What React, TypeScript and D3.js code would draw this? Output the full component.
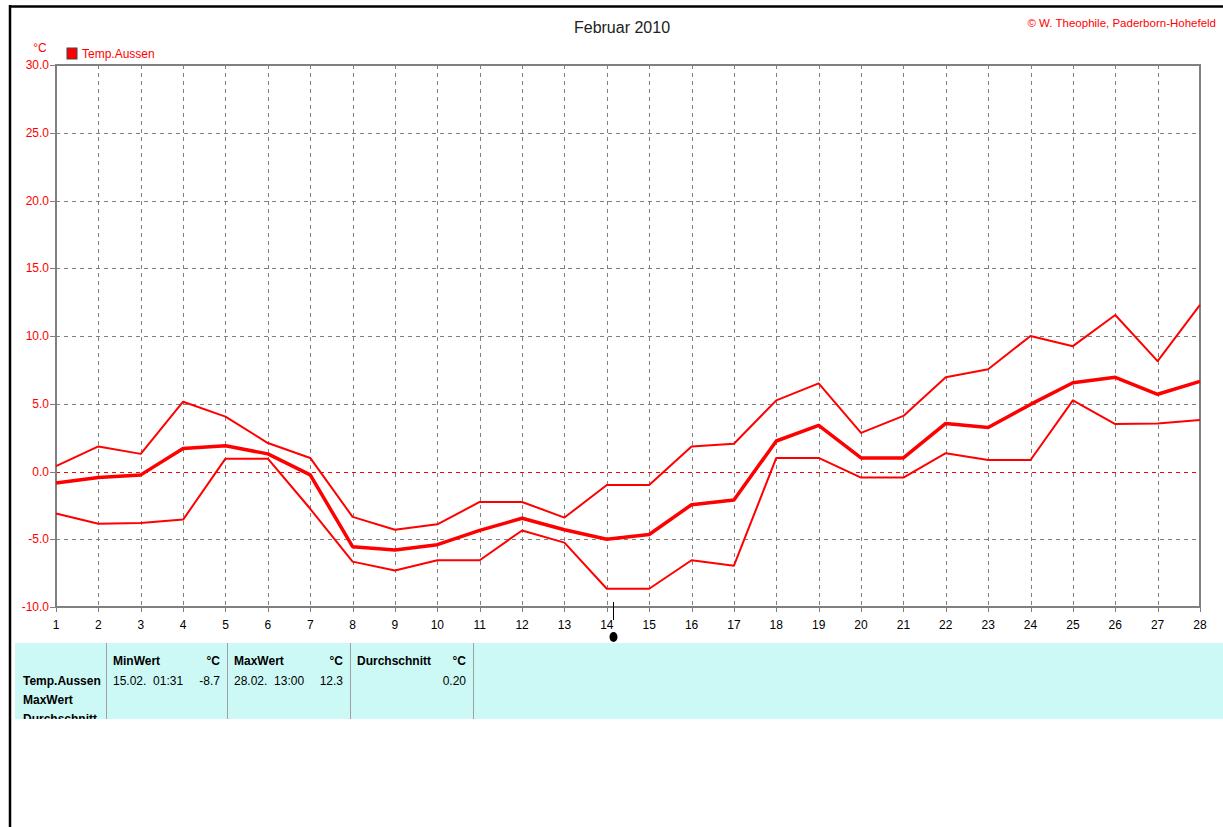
import React from "react";
import * as d3 from "d3";

const days: number[] = d3.range(1, 29);
const tempMax: number[] = [0.4, 1.85, 1.3, 5.15, 4.05, 2.1, 1.0, -3.35, -4.3, -3.9, -2.25, -2.25, -3.4, -1.0, -1.0, 1.85, 2.05, 5.25, 6.5, 2.85, 4.1, 6.95, 7.55, 10.0, 9.25, 11.55, 8.15, 12.3];
const tempMean: number[] = [-0.85, -0.45, -0.25, 1.7, 1.9, 1.3, -0.25, -5.55, -5.8, -5.4, -4.35, -3.45, -4.3, -5.0, -4.65, -2.45, -2.1, 2.25, 3.4, 1.0, 1.0, 3.55, 3.25, 4.95, 6.55, 6.95, 5.7, 6.65];
const tempMin: number[] = [-3.1, -3.85, -3.8, -3.55, 0.95, 0.95, -2.75, -6.65, -7.3, -6.55, -6.55, -4.35, -5.25, -8.65, -8.65, -6.55, -6.95, 1.0, 1.0, -0.45, -0.45, 1.35, 0.85, 0.85, 5.25, 3.5, 3.55, 3.8];
const yTicks: number[] = [-10, -5, 0, 5, 10, 15, 20, 25, 30];

const tableHeaders = [
  { label: "MinWert", unit: "°C", date: "15.02.  01:31", value: "-8.7" },
  { label: "MaxWert", unit: "°C", date: "28.02.  13:00", value: "12.3" },
  { label: "Durchschnitt", unit: "°C", date: "", value: "0.20" },
];
const rowLabels: string[] = ["Temp.Aussen", "MaxWert", "Durchschnitt"];

const RED = "#ff0000";
const GRID = "#808080";
const FONT = "'Liberation Sans', Arial, sans-serif";

const crisp = (v: number) => Math.round(v) + 0.5;

export default function App() {
  const x = d3.scaleLinear().domain([1, 28]).range([56, 1200]);
  const y = d3.scaleLinear().domain([-10, 30]).range([607, 65]);
  const line = d3
    .line<number>()
    .x((_, i) => x(days[i]))
    .y((d) => y(d));

  const colX = [106, 227, 350, 473];

  return (
    <svg
      width={1223}
      height={827}
      style={{ position: "absolute", left: 0, top: 0, background: "#fff" }}
      fontFamily={FONT}
    >
      <defs>
        <clipPath id="tblclip">
          <rect x={15} y={643} width={1208} height={76} />
        </clipPath>
      </defs>
      {/* outer frame */}
      <line x1={10} y1={6.5} x2={1223} y2={6.5} stroke="#000" strokeWidth={2.5} />
      <line x1={10} y1={5} x2={10} y2={827} stroke="#000" strokeWidth={2.5} />

      {/* title */}
      <text x={622} y={33} textAnchor="middle" fontSize={16} fill="#222">
        Februar 2010
      </text>
      <text x={1216} y={27} textAnchor="end" fontSize={11.5} fill={RED}>
        © W. Theophile, Paderborn-Hohefeld
      </text>

      {/* unit and legend */}
      <text x={40} y={52} textAnchor="middle" fontSize={12} fill={RED}>
        °C
      </text>
      <rect x={67} y={48} width={10} height={11} fill={RED} stroke="#444" strokeWidth={1} />
      <text x={82} y={58} fontSize={12} fill={RED}>
        Temp.Aussen
      </text>

      {/* grid */}
      {days.slice(1, -1).map((d) => (
        <line key={"vg" + d} x1={crisp(x(d))} x2={crisp(x(d))} y1={y(30)} y2={y(-10)} stroke={GRID} strokeWidth={1} strokeDasharray="4,4" />
      ))}
      {yTicks
        .filter((t) => t !== -10 && t !== 30)
        .map((t) => (
          <line
            key={"hg" + t}
            x1={x(1)}
            x2={x(28)}
            y1={crisp(y(t))}
            y2={crisp(y(t))}
            stroke={t === 0 ? RED : GRID}
            strokeWidth={1}
            strokeDasharray="4,4"
          />
        ))}

      {/* plot frame */}
      <rect x={x(1)} y={y(30)} width={x(28) - x(1)} height={y(-10) - y(30)} fill="none" stroke={GRID} strokeWidth={2} />

      {/* y ticks */}
      {yTicks.map((t) => (
        <g key={"yt" + t}>
          <line x1={50} x2={x(1)} y1={crisp(y(t))} y2={crisp(y(t))} stroke={GRID} strokeWidth={1} />
          <text x={49} y={y(t) + 4} textAnchor="end" fontSize={12} fill={RED}>
            {t.toFixed(1)}
          </text>
        </g>
      ))}

      {/* x ticks */}
      {days.map((d) => (
        <g key={"xt" + d}>
          <line x1={crisp(x(d))} x2={crisp(x(d))} y1={y(-10)} y2={y(-10) + 5} stroke={GRID} strokeWidth={1} />
          <text x={x(d)} y={629} textAnchor="middle" fontSize={12} fill="#000">
            {d}
          </text>
        </g>
      ))}

      {/* cursor marker */}
      <line x1={613.5} x2={613.5} y1={602} y2={620} stroke="#000" strokeWidth={1} />
      <ellipse cx={613.5} cy={637} rx={4} ry={5} fill="#000" />

      {/* data lines */}
      <path d={line(tempMax) || ""} fill="none" stroke={RED} strokeWidth={2} strokeLinejoin="round" />
      <path d={line(tempMin) || ""} fill="none" stroke={RED} strokeWidth={2} strokeLinejoin="round" />
      <path d={line(tempMean) || ""} fill="none" stroke={RED} strokeWidth={3.5} strokeLinejoin="round" />

      {/* table */}
      <rect x={15} y={643} width={1208} height={76} fill="#ccf9f6" />
      <g clipPath="url(#tblclip)">
        {colX.map((cx) => (
          <line key={"c" + cx} x1={cx + 0.5} x2={cx + 0.5} y1={643} y2={719} stroke="#a0a0a0" strokeWidth={1} />
        ))}
        {rowLabels.map((r, i) => (
          <text key={"r" + i} x={23} y={685 + i * 19} fontSize={12} fontWeight="bold" fill="#000">
            {r}
          </text>
        ))}
        {tableHeaders.map((h, i) => (
          <g key={"h" + i}>
            <text x={colX[i] + 7} y={665} fontSize={12} fontWeight="bold" fill="#000">
              {h.label}
            </text>
            <text x={colX[i + 1] - 7} y={665} textAnchor="end" fontSize={12} fontWeight="bold" fill="#000">
              {h.unit}
            </text>
            {h.date && (
              <text x={colX[i] + 7} y={685} fontSize={12} fill="#000" style={{ whiteSpace: "pre" }}>
                {h.date}
              </text>
            )}
            <text x={colX[i + 1] - 7} y={685} textAnchor="end" fontSize={12} fill="#000">
              {h.value}
            </text>
          </g>
        ))}
      </g>
    </svg>
  );
}
